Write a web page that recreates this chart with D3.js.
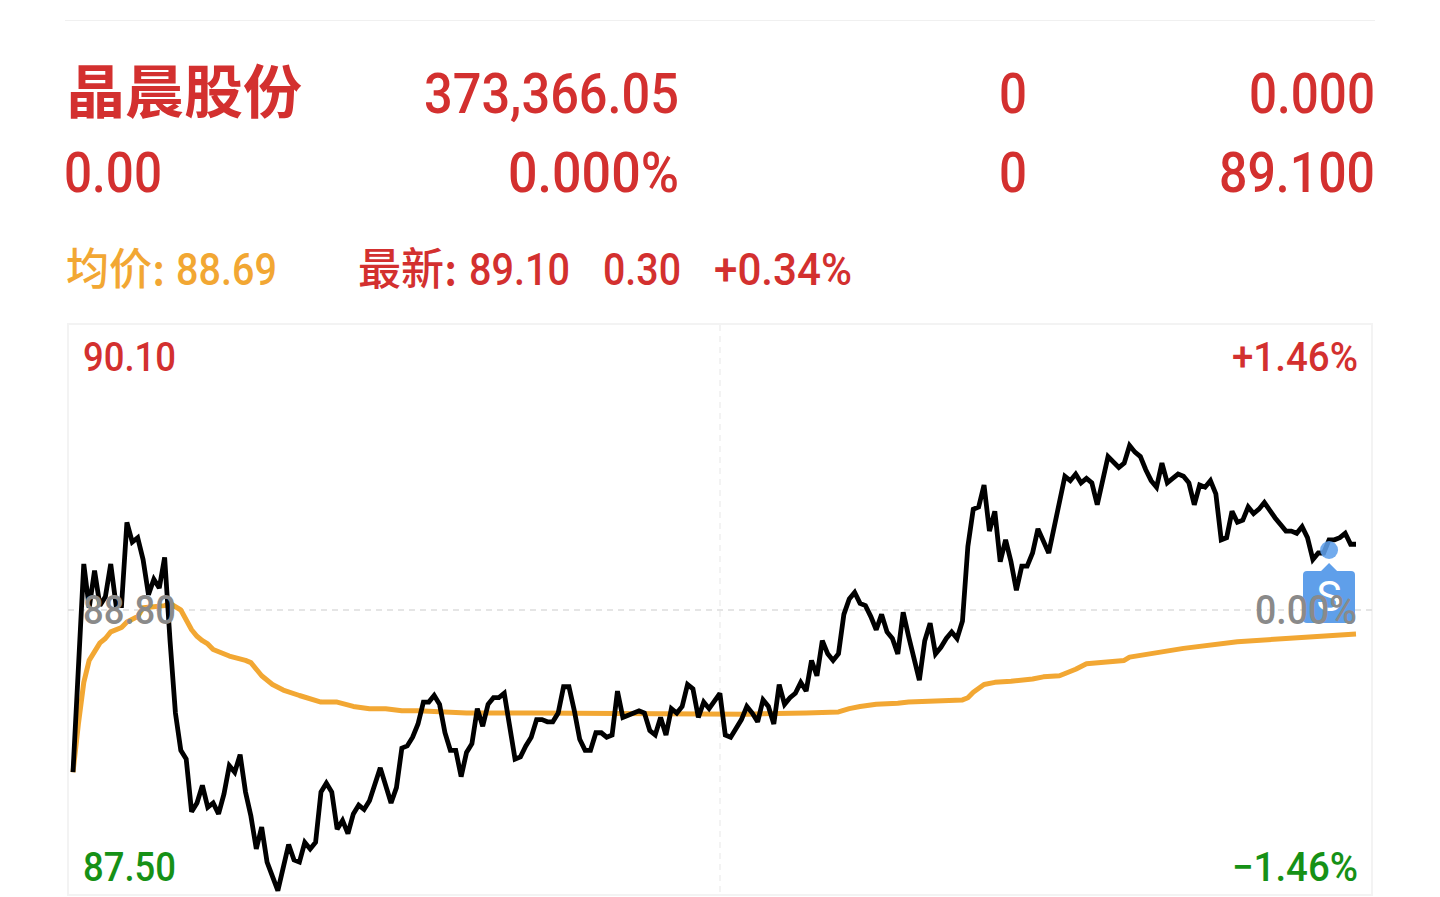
<!DOCTYPE html>
<html><head><meta charset="utf-8">
<script src="https://d3js.org/d3.v7.min.js"></script>
<style>html,body{margin:0;padding:0;background:#fff}svg{display:block}</style>
</head><body><svg id="c" width="1440" height="897"></svg>
<script>
// minute index of each traced vertex of the price line
const priceMinute=[0,2,3,4,5,6,7,8,9,10,11,12,13,14,15,16,17,18,19,20,21,22,23,24,25,26,27,28,29,30,31,32,33,34,35,36,38,40,41,42,43,44,45,46,47,48,49,50,51,52,53,54,55,57,59,60,61,62,63,64,65,66,67,68,69,70,71,72,73,74,75,76,77,78,79,80,82,83,84,85,86,87,88,89,90,91,92,93,94,95,96,97,98,99,100,101,102,103,105,106,107,108,109,110,111,112,113,114,115,116,117,118,120,121,122,124,125,126,127,128,129,130,131,132,133,134,135,136,137,138,139,140,141,142,143,144,145,146,147,148,149,150,151,152,153,154,155,157,158,159,160,161,162,163,164,165,166,167,168,169,170,171,172,173,174,175,176,177,178,179,181,184,185,186,187,188,189,190,192,194,195,196,197,198,199,200,201,202,203,204,205,206,207,208,209,210,211,212,213,214,215,216,217,218,219,220,221,223,224,225,226,227,228,229,230,231,232,233,234,235,236,237,238];
const priceValue=[88.06,89.01,88.81,88.98,88.82,88.86,89.01,88.82,88.82,89.20,89.11,89.13,89.03,88.87,88.94,88.90,89.04,88.66,88.33,88.16,88.12,87.88,87.92,88.00,87.90,87.92,87.87,87.96,88.09,88.06,88.14,87.97,87.86,87.71,87.81,87.65,87.52,87.73,87.66,87.65,87.74,87.71,87.74,87.97,88.01,87.97,87.80,87.84,87.78,87.87,87.91,87.89,87.93,88.08,87.92,87.99,88.17,88.18,88.22,88.28,88.38,88.38,88.41,88.37,88.24,88.16,88.16,88.04,88.15,88.19,88.35,88.27,88.37,88.40,88.40,88.42,88.12,88.13,88.18,88.22,88.30,88.30,88.29,88.29,88.33,88.45,88.45,88.34,88.21,88.16,88.16,88.24,88.24,88.22,88.23,88.43,88.31,88.32,88.34,88.33,88.25,88.23,88.31,88.23,88.35,88.33,88.36,88.46,88.44,88.31,88.38,88.35,88.42,88.23,88.22,88.30,88.36,88.33,88.29,88.39,88.36,88.28,88.46,88.37,88.40,88.42,88.47,88.43,88.57,88.50,88.66,88.60,88.57,88.60,88.78,88.85,88.88,88.83,88.82,88.77,88.71,88.78,88.70,88.67,88.60,88.79,88.68,88.48,88.66,88.74,88.60,88.63,88.67,88.70,88.67,88.75,89.09,89.26,89.27,89.37,89.16,89.25,89.02,89.12,89.02,88.89,89.00,89.00,89.06,89.17,89.06,89.41,89.39,89.42,89.38,89.40,89.38,89.28,89.50,89.45,89.47,89.55,89.52,89.50,89.44,89.39,89.36,89.47,89.38,89.40,89.42,89.41,89.38,89.28,89.37,89.36,89.39,89.33,89.12,89.13,89.25,89.20,89.21,89.27,89.24,89.26,89.29,89.22,89.19,89.16,89.16,89.15,89.18,89.13,89.03,89.06,89.06,89.12,89.12,89.13,89.15,89.10,89.10];
// minute index and value of the average-price line
const avgMinute=[0,1,2,3,4,5,6,7,9,10,12,13,15,17,18,20,22,23,24,25,26,29,32,33,35,37,39,42,46,49,52,55,58,61,64,73,85,125,136,142,144,146,149,153,155,160,165,166,167,169,171,174,178,180,183,186,188,195,196,206,216,225,238];
const avgValue=[88.06,88.28,88.47,88.57,88.61,88.65,88.67,88.70,88.72,88.745,88.77,88.81,88.815,88.82,88.83,88.80,88.71,88.68,88.66,88.645,88.62,88.59,88.57,88.56,88.50,88.46,88.435,88.41,88.38,88.38,88.36,88.35,88.35,88.34,88.34,88.33,88.33,88.325,88.33,88.335,88.35,88.36,88.37,88.375,88.38,88.385,88.39,88.40,88.425,88.46,88.47,88.475,88.485,88.495,88.50,88.53,88.555,88.57,88.585,88.625,88.655,88.67,88.69];
const priceMin=87.50, priceMax=90.10, priceBase=88.80;
const lastMinute=238, signalMinute=233;
const titleText="晶晨股份";
const leftLabels=["90.10","88.80","87.50"];
const rightLabels=["+1.46%","0.00%","−1.46%"];

const RED="#d3302f",ORANGE="#f2a733",GREEN="#169116",GRAY="#8a8a8a",BLUE="#5f9fea";
const NUM="Roboto, sans-serif", CJK="'Noto Sans CJK SC', sans-serif";
const svg=d3.select("#c");
const x=d3.scaleLinear().domain([0,lastMinute]).range([73,1356]);
const y=d3.scaleLinear().domain([priceMin,priceMax]).range([895,325]);

// frame and guides
svg.append("line").attr("x1",65).attr("x2",1375).attr("y1",20.5).attr("y2",20.5).attr("stroke","#f0f0f0").attr("stroke-width",1);
svg.append("rect").attr("x",68).attr("y",324).attr("width",1304).attr("height",571).attr("fill","none").attr("stroke","#f3f3f3").attr("stroke-width",2);
svg.append("line").attr("x1",720).attr("x2",720).attr("y1",325).attr("y2",895).attr("stroke","#f3f3f3").attr("stroke-width",2).attr("stroke-dasharray","6 5");
svg.append("line").attr("x1",68).attr("x2",1372).attr("y1",y(priceBase)).attr("y2",y(priceBase)).attr("stroke","#dddddd").attr("stroke-width",1.5).attr("stroke-dasharray","6 5");

const line=d3.line().x(d=>x(d[0])).y(d=>y(d[1]));
svg.append("path").attr("d",line(d3.zip(avgMinute,avgValue))).attr("fill","none").attr("stroke",ORANGE).attr("stroke-width",5).attr("stroke-linejoin","round");
svg.append("path").attr("d",line(d3.zip(priceMinute,priceValue))).attr("fill","none").attr("stroke","#000").attr("stroke-width",4.8).attr("stroke-linejoin","miter").attr("stroke-miterlimit",2.5);

// signal marker
const mx=x(signalMinute);
svg.append("circle").attr("cx",mx).attr("cy",550).attr("r",9).attr("fill",BLUE).attr("fill-opacity",.88);
svg.append("path").attr("d",`M${mx-9},572L${mx},563L${mx+9},572Z`).attr("fill",BLUE);
svg.append("rect").attr("x",1303).attr("y",571).attr("width",52).attr("height",52).attr("rx",4).attr("fill",BLUE);
svg.append("text").attr("x",mx).attr("y",611).attr("text-anchor","middle").attr("font-family",NUM).attr("font-size",42).attr("fill","#fff").text("S");

function t(s,x0,w,base,size,color,font,weight){
  const e=svg.append("text").attr("x",x0).attr("y",base).attr("font-family",font||NUM).attr("font-size",size).attr("font-weight",weight||500).attr("fill",color).text(s);
  if(w) e.attr("textLength",w).attr("lengthAdjust","spacingAndGlyphs");
  return e;
}
// header rows
t(titleText,66,236,113,58,RED,CJK,700);
t("373,366.05",424,255,113,56,RED);
t("0",999,28,113,56,RED);
t("0.000",1249,126,113,56,RED);
t("0.00",64,98,192,56,RED);
t("0.000%",508,171,192,56,RED);
t("0",999,28,192,56,RED);
t("89.100",1219,156,192,56,RED);
// quote row
t("均价:",66,99,285,44,ORANGE,CJK,500);
t("88.69",176,101,285,44,ORANGE);
t("最新:",358,99,285,44,RED,CJK,500);
t("89.10",469,101,285,44,RED);
t("0.30",603,78,285,44,RED);
t("+0.34%",714,138,285,44,RED);
// axis labels
t(leftLabels[0],83,93,371,40,RED);
t(rightLabels[0],1232,126,371,40,RED);
t(leftLabels[1],83,93,624,40,GRAY);
t(rightLabels[1],1255,102,624,40,GRAY);
t(leftLabels[2],83,93,881,40,GREEN);
t(rightLabels[2],1232,126,881,40,GREEN);
</script></body></html>
